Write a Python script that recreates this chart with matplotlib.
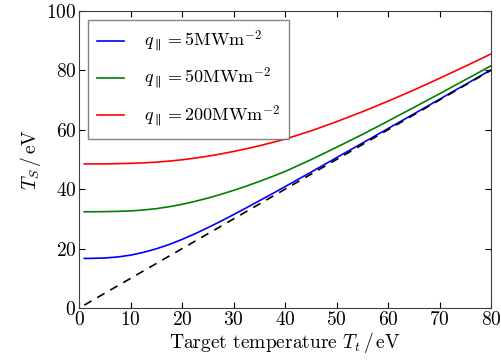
import matplotlib
matplotlib.use("Agg")
import matplotlib.pyplot as plt

plt.rcParams["font.family"] = "serif"
plt.rcParams["font.serif"] = ["cmr10", "DejaVu Serif"]
plt.rcParams["mathtext.fontset"] = "cm"
plt.rcParams["axes.formatter.use_mathtext"] = True

# target temperature (eV)
t_target = [1, 2.5, 5, 7.5, 10, 12.5, 15, 17.5, 20, 22.5, 25, 27.5, 30, 32.5, 35, 37.5,
            40, 45, 50, 55, 60, 65, 70, 75, 80]

# upstream temperature T_S (eV)
ts_5 = [16.7, 16.72, 16.85, 17.2, 17.8, 18.75, 19.95, 21.4, 23.1, 25.0, 27.05, 29.2, 31.45, 33.75,
        36.1, 38.45, 40.85, 45.7, 50.6, 55.5, 60.4, 65.3, 70.25, 75.2, 80.15]
ts_50 = [32.4, 32.4, 32.45, 32.53, 32.7, 33.0, 33.45, 34.1, 34.9, 35.9, 37.0, 38.25, 39.6, 41.05,
         42.6, 44.25, 45.95, 49.9, 54.1, 58.4, 62.9, 67.5, 72.1, 76.8, 81.5]
ts_200 = [48.5, 48.5, 48.5, 48.6, 48.7, 48.85, 49.1, 49.45, 49.9, 50.45, 51.1, 51.85, 52.7, 53.6,
          54.6, 55.7, 56.85, 59.6, 62.7, 66.05, 69.6, 73.35, 77.3, 81.35, 85.5]

labels = [r"$q_\parallel = 5\mathrm{MWm}^{-2}$",
          r"$q_\parallel = 50\mathrm{MWm}^{-2}$",
          r"$q_\parallel = 200\mathrm{MWm}^{-2}$"]

fig = plt.figure(figsize=(5.01, 3.62), dpi=100)
ax = fig.add_axes([0.158, 0.149, 0.822, 0.821])

ax.plot(t_target, ts_5, color="b", lw=1.2, label=labels[0])
ax.plot(t_target, ts_50, color="g", lw=1.2, label=labels[1])
ax.plot(t_target, ts_200, color="r", lw=1.2, label=labels[2])
ax.plot(t_target, t_target, color="k", lw=1.2, ls=(0, (5, 4)))

ax.set_xlim(0, 80)
ax.set_ylim(0, 100)
ax.set_xticks(range(0, 81, 10))
ax.set_yticks(range(0, 101, 20))
ax.tick_params(direction="in", top=True, right=True, labelsize=14, length=4, width=0.8, pad=2)
ax.set_xlabel(r"Target temperature $T_t\,/\,\mathrm{eV}$", fontsize=14, labelpad=1)
ax.set_ylabel(r"$T_S\,/\,\mathrm{eV}$", fontsize=14, labelpad=2)
for s in ax.spines.values():
    s.set_color("0.25")

leg = ax.legend(loc="upper left", fontsize=13, fancybox=False, handlelength=1.5,
                borderpad=0.5, labelspacing=0.6, handletextpad=1.1, borderaxespad=0.5)
leg.get_frame().set_edgecolor("0.4")
leg.get_frame().set_linewidth(1.0)

fig.savefig("out.png", dpi=100)
